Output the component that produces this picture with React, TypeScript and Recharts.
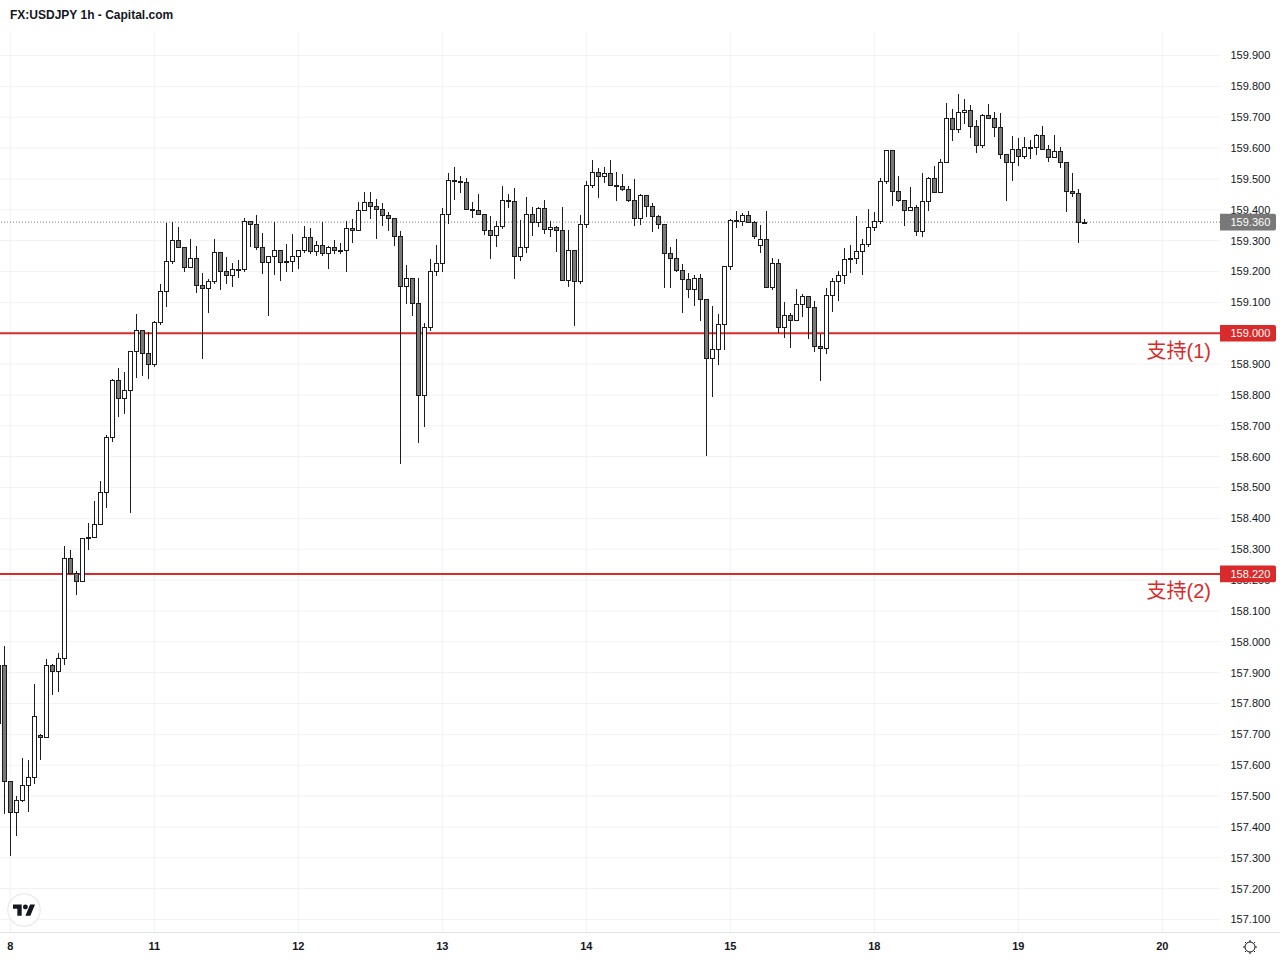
import React from "react";
import { ComposedChart, Bar, XAxis, YAxis, CartesianGrid, ReferenceLine } from "recharts";

const opens = [157.738,157.925,157.548,157.448,157.487,157.535,157.561,157.699,157.692,157.925,157.906,157.948,158.272,158.224,158.198,158.340,158.340,158.382,158.486,158.664,158.849,158.791,158.817,158.943,159.011,158.937,158.901,159.037,159.138,159.235,159.303,159.280,159.215,159.244,159.157,159.147,159.170,159.264,159.202,159.189,159.209,159.209,159.363,159.355,159.280,159.231,159.251,159.270,159.235,159.235,159.251,159.270,159.313,159.267,159.287,159.261,159.280,159.270,159.270,159.342,159.335,159.400,159.426,159.413,159.403,159.384,159.373,159.316,159.154,159.180,159.099,158.801,159.021,159.202,159.228,159.387,159.497,159.494,159.491,159.403,159.400,159.387,159.335,159.319,159.348,159.432,159.429,159.251,159.280,159.387,159.361,159.406,159.338,159.345,159.335,159.173,159.270,159.170,159.355,159.481,159.523,159.510,159.520,159.481,159.478,159.468,159.432,159.374,159.449,159.413,159.381,159.355,159.261,159.244,159.206,159.176,159.144,159.180,159.112,158.921,158.950,159.031,159.219,159.368,159.364,159.384,159.361,159.287,159.306,159.150,159.228,159.021,159.060,159.044,159.095,159.121,159.086,158.959,158.953,159.125,159.170,159.189,159.241,159.244,159.267,159.290,159.345,159.364,159.494,159.594,159.462,159.432,159.400,159.410,159.332,159.429,159.504,159.458,159.556,159.698,159.663,159.718,159.724,159.672,159.611,159.708,159.698,159.669,159.581,159.556,159.598,159.575,159.604,159.604,159.643,159.598,159.572,159.591,159.556,159.462,159.455,159.361];
const closes = [157.926,157.548,157.448,157.487,157.535,157.561,157.760,157.692,157.925,157.906,157.948,158.272,158.224,158.198,158.337,158.337,158.382,158.486,158.664,158.849,158.791,158.817,158.943,159.011,158.937,158.901,159.037,159.138,159.235,159.303,159.280,159.215,159.244,159.157,159.147,159.170,159.264,159.202,159.189,159.209,159.208,159.363,159.355,159.280,159.231,159.251,159.270,159.231,159.231,159.251,159.270,159.313,159.267,159.287,159.261,159.280,159.270,159.270,159.342,159.335,159.400,159.426,159.413,159.403,159.384,159.373,159.316,159.154,159.180,159.099,158.801,159.021,159.202,159.228,159.387,159.497,159.494,159.491,159.403,159.400,159.387,159.335,159.319,159.348,159.432,159.429,159.251,159.280,159.387,159.361,159.406,159.338,159.345,159.335,159.173,159.270,159.170,159.355,159.481,159.523,159.510,159.520,159.481,159.478,159.468,159.432,159.374,159.449,159.413,159.381,159.355,159.261,159.244,159.206,159.176,159.144,159.180,159.112,158.921,158.950,159.031,159.219,159.368,159.364,159.384,159.361,159.316,159.306,159.150,159.228,159.021,159.060,159.044,159.095,159.121,159.086,158.959,158.953,159.125,159.170,159.189,159.241,159.244,159.267,159.290,159.345,159.364,159.494,159.594,159.462,159.432,159.400,159.410,159.332,159.429,159.504,159.458,159.556,159.698,159.663,159.718,159.724,159.672,159.611,159.708,159.698,159.669,159.581,159.556,159.598,159.575,159.604,159.604,159.643,159.598,159.572,159.591,159.556,159.462,159.455,159.361,159.360];
const highs = [157.943,157.988,157.550,157.502,157.627,157.621,157.867,157.705,157.948,157.932,157.968,158.314,158.301,158.233,158.340,158.389,158.460,158.525,158.675,158.856,158.891,158.878,158.947,159.066,159.014,159.008,159.044,159.163,159.361,159.364,159.348,159.281,159.309,159.287,159.199,159.180,159.309,159.267,159.251,159.231,159.241,159.377,159.365,159.387,159.329,159.254,159.364,159.271,159.293,159.326,159.271,159.351,159.345,159.303,159.364,159.287,159.306,159.297,159.366,159.374,159.429,159.462,159.462,159.439,159.426,159.397,159.375,159.335,159.225,159.183,159.183,159.037,159.244,159.290,159.410,159.523,159.543,159.513,159.507,159.429,159.455,159.388,159.384,159.368,159.481,159.455,159.475,159.371,159.445,159.413,159.413,159.436,159.368,159.351,159.413,159.338,159.271,159.387,159.498,159.565,159.539,159.543,159.565,159.526,159.520,159.481,159.504,159.455,159.452,159.426,159.387,159.358,159.283,159.309,159.228,159.199,159.193,159.196,159.115,159.093,159.064,159.220,159.374,159.400,159.394,159.400,159.368,159.355,159.400,159.248,159.244,159.105,159.070,159.147,159.131,159.125,159.108,159.001,159.150,159.183,159.206,159.280,159.290,159.384,159.309,159.406,159.397,159.507,159.598,159.596,159.513,159.436,159.478,159.419,159.523,159.510,159.546,159.569,159.750,159.731,159.779,159.763,159.743,159.695,159.714,159.747,159.721,159.718,159.582,159.643,159.637,159.640,159.630,159.649,159.675,159.614,159.646,159.607,159.557,159.523,159.471,159.372];
const lows = [157.716,157.444,157.308,157.373,157.484,157.451,157.542,157.620,157.692,157.830,157.840,157.927,158.224,158.154,158.198,158.300,158.340,158.382,158.438,158.650,158.731,158.740,158.420,158.857,158.863,158.854,158.893,159.029,159.088,159.228,159.280,159.201,159.215,159.134,158.919,159.068,159.163,159.144,159.163,159.152,159.182,159.201,159.282,159.272,159.194,159.060,159.191,159.172,159.201,159.201,159.211,159.263,159.261,159.252,159.252,159.211,159.261,159.261,159.201,159.295,159.335,159.398,159.372,159.310,159.351,159.335,159.287,158.581,159.097,159.060,158.649,158.698,159.012,159.188,159.201,159.357,159.436,159.458,159.403,159.377,159.387,159.321,159.243,159.282,159.340,159.408,159.178,159.237,159.263,159.318,159.347,159.324,159.314,159.266,159.173,159.152,159.027,159.163,159.344,159.475,159.441,159.491,159.481,159.431,159.465,159.428,159.350,159.353,159.379,159.331,159.340,159.149,159.149,159.201,159.068,159.116,159.091,159.042,158.604,158.798,158.899,158.950,159.209,159.345,159.350,159.361,159.309,159.264,159.150,159.144,159.005,158.988,158.955,159.044,159.056,158.984,158.942,158.850,158.935,159.073,159.107,159.162,159.198,159.227,159.191,159.282,159.334,159.357,159.488,159.415,159.430,159.350,159.400,159.318,159.314,159.399,159.458,159.458,159.556,159.626,159.651,159.682,159.635,159.587,159.603,159.698,159.638,159.567,159.431,159.496,159.545,159.567,159.567,159.580,159.598,159.558,159.572,159.538,159.395,159.444,159.297,159.359];

const priceTicks = [157.1,157.2,157.3,157.4,157.5,157.6,157.7,157.8,157.9,158.0,158.1,158.2,158.3,158.4,158.5,158.6,158.7,158.8,158.9,159.0,159.1,159.2,159.3,159.4,159.5,159.6,159.7,159.8,159.9];
const dayTicks = [1,25,49,73,97,121,145,169,193];
const dayLabels = ["8","11","12","13","14","15","18","19","20"];
const support1 = 159.0;
const support2 = 158.22;
const lastPrice = 159.36;
const tagPrices = [lastPrice, support2, support1];
const title = "FX:USDJPY 1h - Capital.com";
const support1Label = "支持(1)";
const support2Label = "支持(2)";

const data = opens.map((o, k) => ({ hour: k - 1, open: o, close: closes[k], high: highs[k], low: lows[k] }));

const FONT = "'Liberation Sans', Arial, sans-serif";
const RED = "#d92b2b";
const INK = "#131722";
const PRICE_DOMAIN = [157.0595, 159.9762];

function Candle(props: any) {
  const { x, y, width, height, payload } = props;
  const top = Math.min(y, y + height);
  const h = Math.abs(height);
  const k = h / (payload.high - payload.low);
  const py = (v: number) => Math.floor(top + (payload.high - v) * k + 0.5) + 0.5;
  const px = Math.floor(x + width / 2) + 1;
  const yO = py(payload.open);
  const yC = py(payload.close);
  const bodyTop = Math.min(yO, yC);
  const bodyH = Math.abs(yO - yC);
  const up = payload.close >= payload.open;
  return (
    <g shapeRendering="crispEdges">
      <line x1={px + 0.5} x2={px + 0.5} y1={py(payload.high)} y2={py(payload.low) + 0.5} stroke="#1c1c1c" strokeWidth={1} />
      <rect x={px - 1.5} y={bodyTop} width={4} height={Math.max(bodyH, 0.5)} fill={up ? "#ffffff" : "#787878"} stroke="#1c1c1c" strokeWidth={1} />
    </g>
  );
}

function PriceTag({ y, payload }: any) {
  const value = payload.value;
  const fill = value === lastPrice ? "#787878" : RED;
  const note = value === support1 ? support1Label : value === support2 ? support2Label : null;
  return (
    <g>
      <path d={`M1220 ${y - 8.3} H1274 a2 2 0 0 1 2 2 V${y + 6.3} a2 2 0 0 1 -2 2 H1220 Z`} fill={fill} />
      <text x={1230.5} y={y + 4.2} fill="#ffffff" fontSize={11} fontFamily={FONT}>{value.toFixed(3)}</text>
      {note ? (
        <text x={1211} y={y + 24.5} textAnchor="end" fill={RED} fontSize={20} fontFamily="'Liberation Sans', 'Noto Sans CJK SC', sans-serif">{note}</text>
      ) : null}
    </g>
  );
}

export default function App() {
  return (
    <div style={{ position: "absolute", left: 0, top: 0, width: 1280, height: 960, background: "#fff", overflow: "hidden" }}>
      <ComposedChart width={1280} height={960} data={data} margin={{ top: 32, right: 0, bottom: 0, left: 0 }}>
        <CartesianGrid stroke="#f1f2f4" strokeWidth={1} syncWithTicks />
        <XAxis
          dataKey="hour"
          type="number"
          domain={[-0.717, 202.617]}
          allowDataOverflow
          ticks={dayTicks}
          interval={0}
          tickFormatter={(v: number) => dayLabels[dayTicks.indexOf(v)]}
          height={28}
          tickLine={false}
          axisLine={false}
          tickSize={0}
          tickMargin={10}
          tick={{ fill: INK, fontSize: 11, fontFamily: FONT, fontWeight: 700 }}
        />
        <YAxis
          orientation="right"
          width={59}
          type="number"
          domain={PRICE_DOMAIN}
          allowDataOverflow
          ticks={priceTicks}
          interval={0}
          tickFormatter={(v: number) => v.toFixed(3)}
          tickLine={false}
          axisLine={false}
          tickSize={0}
          tickMargin={10.5}
          tick={{ fill: INK, fontSize: 11, fontFamily: FONT, textAnchor: "start" }}
        />
        <YAxis
          yAxisId="tags"
          orientation="right"
          width={1}
          type="number"
          domain={PRICE_DOMAIN}
          allowDataOverflow
          ticks={tagPrices}
          interval={0}
          tickLine={false}
          axisLine={false}
          tick={PriceTag}
        />
        <ReferenceLine y={lastPrice} stroke="#787878" strokeDasharray="1 2" strokeWidth={1} zIndex={100} />
        <ReferenceLine y={support1} stroke={RED} strokeWidth={2} zIndex={100} />
        <ReferenceLine y={support2} stroke={RED} strokeWidth={2} zIndex={100} />
        <Bar dataKey={(d: any) => [d.low, d.high]} barSize={5} shape={Candle} isAnimationActive={false} />
      </ComposedChart>
      <div style={{ position: "absolute", left: 0, top: 932, width: 1280, height: 1, background: "#e0e3eb" }} />
      <div style={{ position: "absolute", left: 10, top: 8, fontFamily: FONT, fontSize: 12, fontWeight: 700, color: INK, lineHeight: "15px", whiteSpace: "nowrap" }}>{title}</div>
      <svg width={34} height={34} viewBox="0 0 34 34" style={{ position: "absolute", left: 7, top: 893 }}>
        <circle cx={17} cy={17} r={16.2} fill="#fff" stroke="#e6e8ec" strokeWidth={1.2} />
        <g transform="translate(6 11.5) scale(0.62)">
          <path d="M14 18H7V7H0V0h14v18zM28 18h-8l7.5-18h8L28 18z" fill={INK} />
          <circle cx={20} cy={4} r={4} fill={INK} />
        </g>
      </svg>
      <svg width={16} height={16} viewBox="0 0 16 16" style={{ position: "absolute", left: 1242, top: 938.5 }}>
        <circle cx={8} cy={8} r={5} fill="none" stroke={INK} strokeWidth={1} />
        <path d="M8 1V3M8 13V15M1 8H3M13 8H15M3 3L4.4 4.4M11.6 11.6L13 13M13 3L11.6 4.4M4.4 11.6L3 13" stroke={INK} strokeWidth={1} />
      </svg>
    </div>
  );
}
